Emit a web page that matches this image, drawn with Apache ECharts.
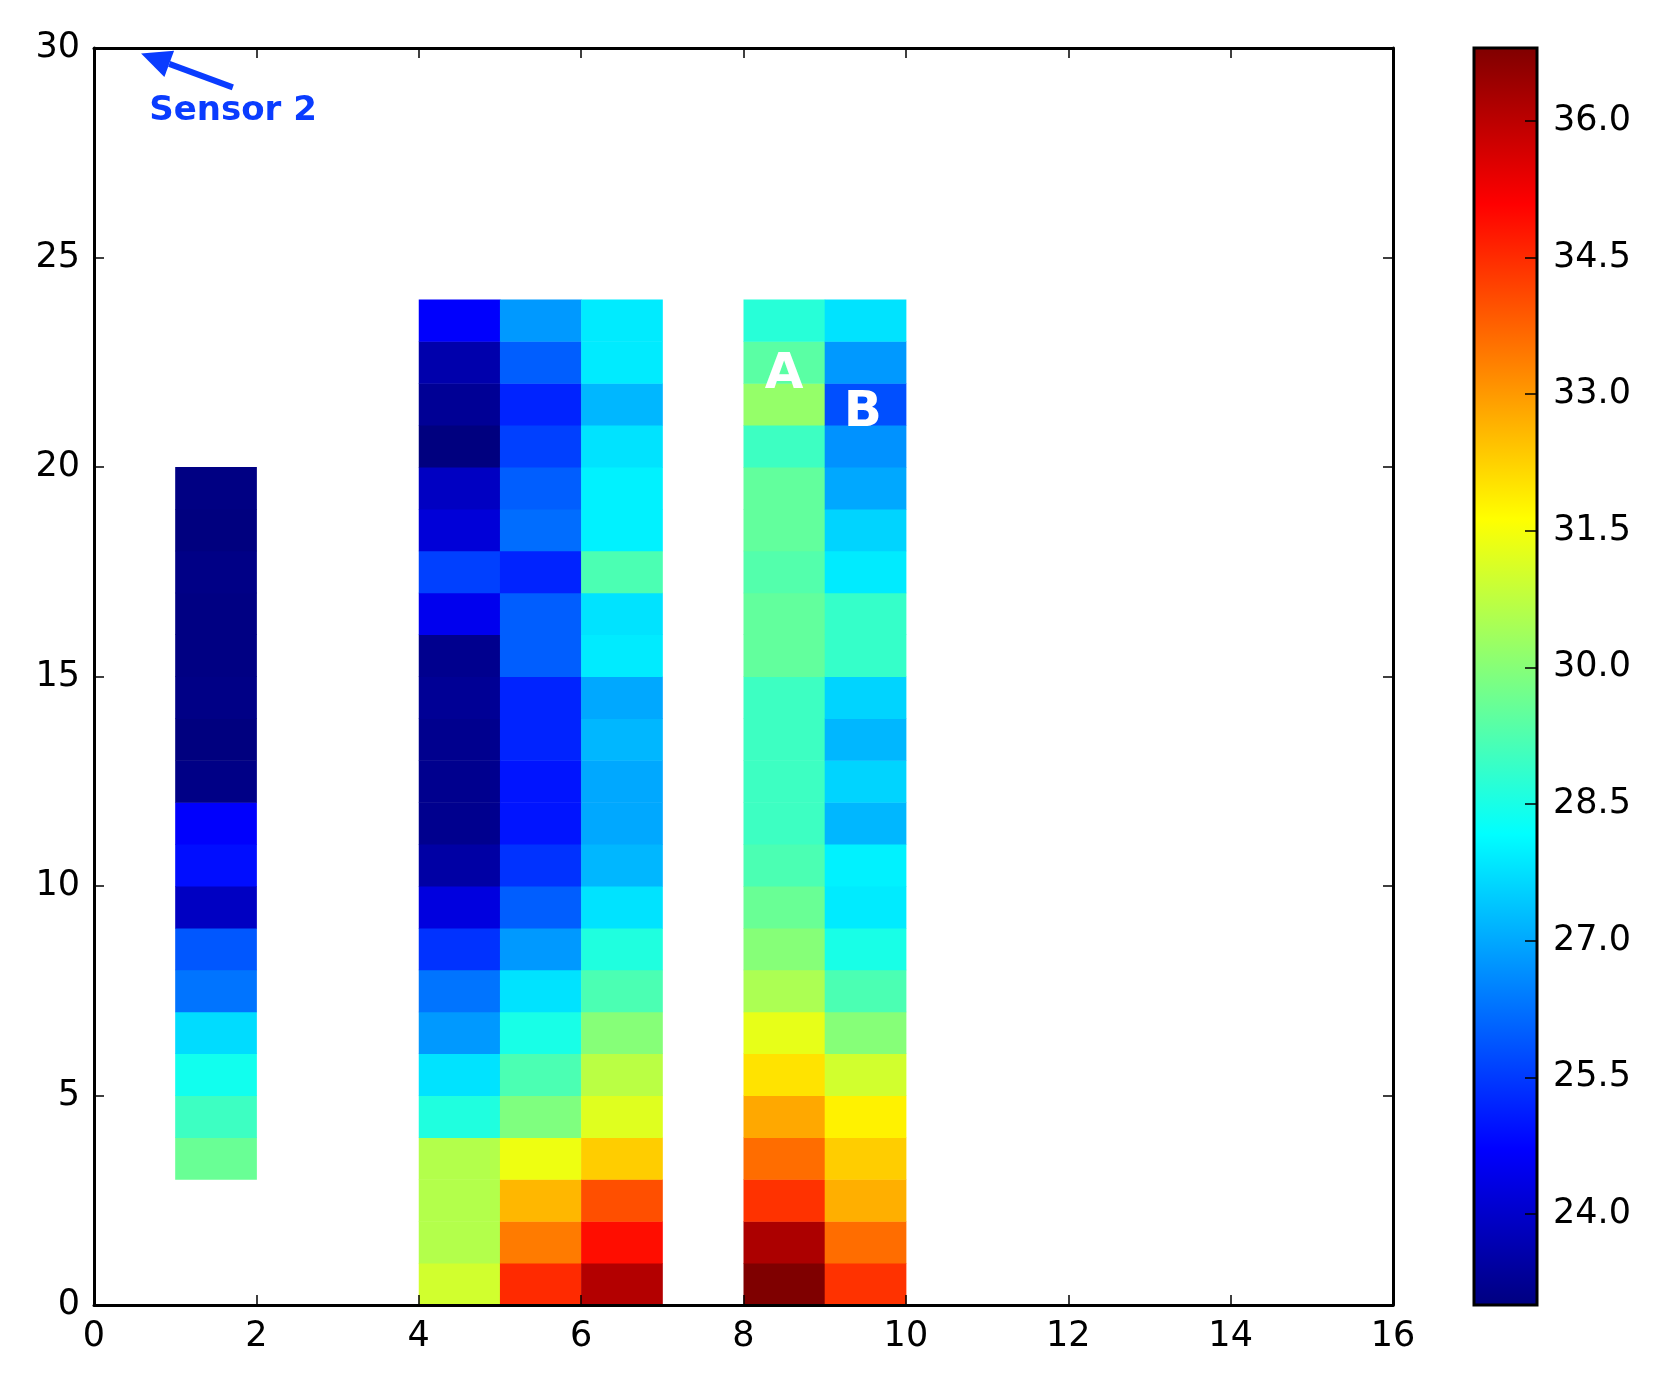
<!DOCTYPE html>
<html><head><meta charset="utf-8">
<script src="https://cdn.jsdelivr.net/npm/echarts@6/dist/echarts.min.js"></script>
<style>html,body{margin:0;background:#fff}#c{width:1673px;height:1380px}</style>
</head><body><div id="c"></div>
<script>
// column x-positions (left edge) and first row of each column
var colX = [1, 4, 5, 6, 8, 9];
var colStart = [3, 0, 0, 0, 0, 0];
// values per column, bottom row upward
var col1 = [29.6,29.0,28.4,27.7,26.3,25.9,23.9,24.9,24.7,23.1,23.0,23.1,23.05,23.05,23.1,23.0,23.05];
var col4 = [31.0,30.6,30.6,30.6,28.6,27.8,26.8,26.3,25.4,24.3,23.5,23.2,23.2,23.2,23.3,23.2,24.5,25.6,24.2,23.9,23.0,23.3,23.6,24.7];
var col5 = [34.5,33.4,32.6,31.4,29.9,29.2,28.5,27.8,26.8,26.0,25.4,25.0,25.0,25.2,25.2,26.0,26.0,25.2,26.2,26.0,25.6,25.2,26.0,26.8];
var col6 = [36.1,34.9,34.0,32.3,31.2,30.7,30.0,29.2,28.6,27.8,27.2,27.0,27.0,27.2,27.0,27.9,27.8,29.2,28.0,28.0,27.8,27.2,27.9,27.9];
var col8 = [36.8,36.2,34.4,33.6,32.8,32.0,31.3,30.5,30.0,29.6,29.2,29.0,29.0,29.0,29.0,29.5,29.5,29.3,29.5,29.5,29.0,30.2,29.4,28.7];
var col9 = [34.4,33.6,32.7,32.3,31.8,31.0,30.0,29.2,28.5,27.9,28.0,27.2,27.6,27.2,27.6,28.9,28.9,27.9,27.6,27.0,26.7,25.8,26.8,27.8];
var cbTicks = [24.0, 25.5, 27.0, 28.5, 30.0, 31.5, 33.0, 34.5, 36.0];
var vMin = 23.0, vMax = 36.8;
var jet = ['#00007f','#0000ff','#007fff','#00ffff','#7fff7f','#ffff00','#ff7f00','#ff0000','#7f0000'];

var cols = [col1, col4, col5, col6, col8, col9];
var cells = [];
cols.forEach(function (c, i) {
  c.forEach(function (v, j) { cells.push([colX[i], colStart[i] + j, v]); });
});

var font = 'DejaVu Sans';
function ax(o) {
  return Object.assign({
    z: 20,
    axisLine: {onZero: false, lineStyle: {color: '#000', width: 3}},
    axisTick: {inside: true, length: 10, lineStyle: {color: '#000', width: 1.5}},
    splitLine: {show: false},
    axisLabel: {color: '#000', fontSize: 35, fontFamily: font, margin: 14}
  }, o);
}

var chart = echarts.init(document.getElementById('c'));
chart.setOption({
  animation: false,
  grid: [
    {left: 94, top: 48, width: 1299, height: 1257},
    {left: 1474, top: 48, width: 63, height: 1257}
  ],
  xAxis: [
    ax({type: 'value', min: 0, max: 16, interval: 2, gridIndex: 0, position: 'bottom'}),
    ax({type: 'value', min: 0, max: 16, interval: 2, gridIndex: 0, position: 'top', axisLabel: {show: false}}),
    {type: 'value', min: 0, max: 1, gridIndex: 1, show: false}
  ],
  yAxis: [
    ax({type: 'value', min: 0, max: 30, interval: 5, gridIndex: 0, position: 'left'}),
    ax({type: 'value', min: 0, max: 30, interval: 5, gridIndex: 0, position: 'right', axisLabel: {show: false}}),
    ax({type: 'value', min: vMin, max: vMax, gridIndex: 1, position: 'right',
      axisLine: {show: false, onZero: false},
      axisTick: {inside: true, length: 12, customValues: cbTicks, lineStyle: {color: '#000', width: 1.5}},
      axisLabel: {color: '#000', fontSize: 35, fontFamily: font, margin: 16, customValues: cbTicks,
        formatter: function (v) { return v.toFixed(1); }}})
  ],
  visualMap: {show: false, min: vMin, max: vMax, dimension: 2, seriesIndex: 0, inRange: {color: jet}},
  series: [
    {
      type: 'custom', xAxisIndex: 0, yAxisIndex: 0, data: cells,
      renderItem: function (params, api) {
        var p0 = api.coord([api.value(0), api.value(1) + 1]);
        var p1 = api.coord([api.value(0) + 1, api.value(1)]);
        return {type: 'rect', shape: {x: p0[0], y: p0[1], width: p1[0] - p0[0] + 0.5, height: p1[1] - p0[1] + 0.5},
          style: {fill: api.visual('color')}};
      }
    },
    {
      type: 'custom', xAxisIndex: 2, yAxisIndex: 2, data: [[0, vMin]], z: 1,
      renderItem: function (params, api) {
        var a = api.coord([0, vMax]), b = api.coord([1, vMin]);
        var stops = jet.map(function (c, i) { return {offset: 1 - i / (jet.length - 1), color: c}; }).reverse();
        return {type: 'rect', shape: {x: a[0], y: a[1], width: b[0] - a[0], height: b[1] - a[1]},
          style: {fill: new echarts.graphic.LinearGradient(0, 0, 0, 1, stops), stroke: '#000', lineWidth: 3}};
      }
    }
  ]
});

var px = function (p) { return chart.convertToPixel({gridIndex: 0}, p); };
var tail = px([1.71, 29.06]), head = px([0.58, 29.87]);
var dx = head[0] - tail[0], dy = head[1] - tail[1], L = Math.sqrt(dx * dx + dy * dy);
var ux = dx / L, uy = dy / L, hl = 30, hw = 14;
var base = [head[0] - ux * hl, head[1] - uy * hl];
chart.setOption({
  graphic: [
    {type: 'line', shape: {x1: tail[0], y1: tail[1], x2: base[0], y2: base[1]}, style: {stroke: '#0a3cff', lineWidth: 6}, z: 10},
    {type: 'polygon', shape: {points: [head, [base[0] - uy * hw, base[1] + ux * hw], [base[0] + uy * hw, base[1] - ux * hw]]}, style: {fill: '#0a3cff'}, z: 10},
    {type: 'text', x: px([0.68, 28.5])[0], y: px([0.68, 28.5])[1], style: {text: 'Sensor 2', fill: '#0a3cff', font: 'bold 34px "DejaVu Sans"', verticalAlign: 'middle'}, z: 10},
    {type: 'text', x: px([8.5, 22.2])[0], y: px([8.5, 22.2])[1], style: {text: 'A', fill: '#fff', font: 'bold 50px "DejaVu Sans"', align: 'center', verticalAlign: 'middle'}, z: 10},
    {type: 'text', x: px([9.47, 21.3])[0], y: px([9.47, 21.3])[1], style: {text: 'B', fill: '#fff', font: 'bold 50px "DejaVu Sans"', align: 'center', verticalAlign: 'middle'}, z: 10}
  ]
});
</script></body></html>
